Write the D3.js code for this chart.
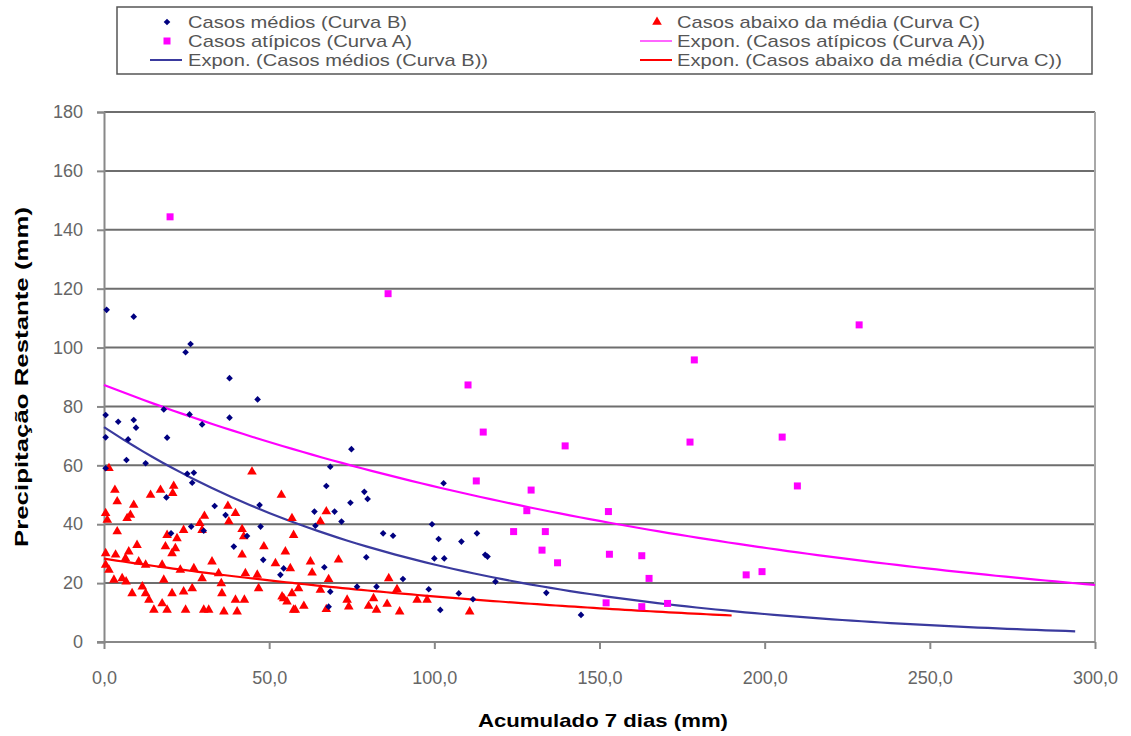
<!DOCTYPE html>
<html>
    <head>
        <meta charset="utf-8">
        <title> Precipitação restante x acumulado 7 dias </title>
        <script type="text/javascript" src="https://d3js.org/d3.v7.min.js"></script>
        <style>
            body {margin: 0; background: #fff;}
            svg text {font-family: "Liberation Sans", Arial, sans-serif;}
        </style>
    </head>
    <body>
        <script>
            // Casos atípicos (Curva A) - [acumulado 7 dias, precipitação restante]
            var casosAtipicos = [
                [20, 144.4], [86, 118.3], [110.2, 87.3], [178.7, 95.8], [228.6, 107.7],
                [114.8, 71.3], [139.6, 66.6], [177.4, 67.9], [205.3, 69.6], [112.7, 54.7],
                [209.9, 53], [129.3, 51.6], [128, 44.6], [152.7, 44.3], [124, 37.5],
                [133.6, 37.5], [132.6, 31.2], [153, 29.8], [162.8, 29.3], [137.3, 26.9],
                [165, 21.6], [194.4, 22.8], [199.2, 23.9], [152, 13.3], [162.8, 12], [170.6, 13.1]
            ];

            // Casos médios (Curva B)
            var casosMedios = [
                [0.8, 112.8], [9, 110.5], [26.2, 101.2], [24.7, 98.4], [38, 89.6], [46.5, 82.4],
                [0.5, 77.1], [4.3, 74.8], [9, 75.4], [9.7, 72.8], [0.5, 69.5], [7.3, 68.8],
                [19.1, 69.4], [18.1, 79], [25.9, 77.3], [29.7, 73.9], [38, 76.2],
                [6.8, 61.8], [12.6, 60.7], [0.5, 59], [25.2, 57.1], [27.2, 57.5], [26.7, 54.1],
                [18.9, 49.1], [33.5, 46.2], [36.8, 43.1], [47.1, 46.5], [26.4, 39.2], [30.2, 37.8],
                [47.4, 39.2], [20.3, 36.9], [43.3, 36], [39.3, 32.4], [48.2, 27.9], [54.4, 25],
                [53.4, 22.8], [74.9, 65.5], [68.5, 59.5], [67.3, 53], [78.8, 51], [79.8, 48.6],
                [74.6, 47.3], [63.7, 44.3], [69.8, 44.3], [102.8, 53.9], [71.9, 40.9], [64, 39.5],
                [99.3, 40], [84.5, 36.9], [87.5, 36.1], [101.3, 35], [108.2, 34.1], [112.9, 36.9],
                [79.4, 28.8], [100, 28.4], [103, 28.4], [66.7, 25.4], [90.5, 21.4], [68.5, 17.1],
                [76.6, 18.8], [82.5, 18.8], [98.3, 17.9], [107.4, 16.5], [101.8, 10.9], [68, 12],
                [115.4, 29.6], [116.1, 29], [118.5, 20.5], [111.7, 14.5], [133.9, 16.7], [144.4, 9.2]
            ];

            // Casos abaixo da média (Curva C)
            var casosAbaixo = [
                [1.5, 59], [3.3, 51.6], [4, 47.7], [14.1, 49.9], [17.1, 51.6], [21.1, 53],
                [20.8, 50.5], [9, 46.5], [8, 43.1], [0.5, 43.7], [1, 41.4], [4, 37.5], [7, 42],
                [44.8, 57.8], [53.7, 49.9], [37.5, 46.2], [39.8, 43.7], [37.8, 40.9], [30.4, 42.8],
                [29, 40.3], [29.7, 38], [24.1, 38], [19.1, 36.3], [22.1, 35.2], [18.6, 32.4],
                [21.6, 31.8], [20.6, 30.1], [41.8, 38.3], [42.3, 35.8], [10, 32.9], [7.5, 30.7],
                [6.5, 28.4], [0.5, 30.1], [3.5, 29.6], [0.5, 26.2], [1.5, 24.5], [5.5, 21.6],
                [3, 21.1], [6.7, 20.5], [8.5, 16.5], [11.6, 18.8], [12.6, 16.5], [13.6, 14.3],
                [15.1, 10.9], [17.6, 13.1], [18.1, 21.1], [17.6, 26.2], [19.1, 10.9], [20.6, 16.5],
                [24.1, 17.1], [24.7, 10.9], [26.7, 18.2], [27.2, 25], [23.1, 24.5], [29.7, 21.6],
                [30.2, 10.9], [31.7, 10.9], [32.7, 27.3], [34.7, 23.3], [35.5, 19.9], [35.7, 16.5],
                [36.3, 10.3], [39.8, 14.3], [40.3, 10.3], [42.5, 14.3], [41.8, 29.6], [42.8, 23.3],
                [46.4, 22.8], [46.8, 18.2], [48.4, 32.4], [51.9, 26.7], [54.9, 30.7], [53.9, 15.4],
                [55.4, 13.7], [57.4, 10.9], [56.9, 16.5], [10.5, 27.3], [12.6, 26.2],
                [56.9, 42], [57.4, 36.3], [56.4, 25], [62.5, 27.3], [63, 23.5], [71, 27.9],
                [67.3, 44.3], [65.5, 40.9], [68, 21.3], [65.5, 17.7], [73.6, 14.3], [74.1, 12],
                [67.3, 11.1], [57.9, 10.9], [60.5, 12.2], [54.4, 14.8], [58.9, 18.2], [81.6, 14.8],
                [80.1, 12.2], [82.5, 10.9], [85.7, 12.9], [89.5, 10.3], [86.2, 21.6], [88.7, 17.9],
                [94.8, 14.3], [97.8, 14.3], [110.7, 10.3]
            ];

            // linhas de tendência exponenciais y = a * exp(b * x)
            var trendNames = ["A", "B", "C"];
            var trendA = [87.3, 73, 28.3];
            var trendB = [-0.00502, -0.0102, -0.00603];
            var trendXMax = [300, 294, 190];

            var xTicks = [0, 50, 100, 150, 200, 250, 300];
            var yTicks = [0, 20, 40, 60, 80, 100, 120, 140, 160, 180];

            var legendLabels = [
                "Casos médios (Curva B)", "Casos abaixo da média (Curva C)",
                "Casos atípicos (Curva A)", "Expon. (Casos atípicos (Curva A))",
                "Expon. (Casos médios (Curva B))", "Expon. (Casos abaixo da média (Curva C))"
            ];

            var width = 1131, height = 736;
            var plotLeft = 104, plotRight = 1095, plotTop = 112, plotBottom = 642;

            var svg = d3.select("body").append("svg")
                        .attr("width", width)
                        .attr("height", height);

            var x = d3.scaleLinear().domain([0, 300]).range([plotLeft, plotRight]);
            var y = d3.scaleLinear().domain([0, 180]).range([plotBottom, plotTop]);

            // grade horizontal
            svg.append("g").selectAll("line")
                .data(yTicks.filter(function(d) {return d > 0;}))
                .enter().append("line")
                .attr("x1", plotLeft).attr("x2", plotRight)
                .attr("y1", function(d) {return y(d);})
                .attr("y2", function(d) {return y(d);})
                .attr("stroke", "#6e6e6e")
                .attr("stroke-width", 2);

            // borda direita
            svg.append("line")
                .attr("x1", plotRight).attr("x2", plotRight)
                .attr("y1", plotTop).attr("y2", plotBottom)
                .attr("stroke", "#a8a8a8").attr("stroke-width", 2);

            var yAxis = svg.append("g")
                .attr("transform", "translate(" + plotLeft + ",0)")
                .call(d3.axisLeft(y).tickValues(yTicks).tickSize(7).tickPadding(14).tickFormat(d3.format("d")));

            var xAxis = svg.append("g")
                .attr("transform", "translate(0," + plotBottom + ")")
                .call(d3.axisBottom(x).tickValues(xTicks).tickSize(7).tickPadding(22)
                      .tickFormat(function(d) {return d3.format(".1f")(d).replace(".", ",");}));

            [xAxis, yAxis].forEach(function(ax) {
                ax.select(".domain").attr("stroke", "#888").attr("stroke-width", 2);
                ax.selectAll(".tick line").attr("stroke", "#888").attr("stroke-width", 2);
                ax.selectAll(".tick text").attr("fill", "#666").style("font-size", "18px");
            });
            xAxis.select(".domain").attr("d", "M" + (plotLeft - 7) + ",0H" + plotRight);

            // títulos dos eixos
            svg.append("text")
                .attr("x", 603).attr("y", 727)
                .attr("text-anchor", "middle")
                .attr("textLength", 250).attr("lengthAdjust", "spacingAndGlyphs")
                .style("font-size", "19px").style("font-weight", "bold")
                .text("Acumulado 7 dias (mm)");

            svg.append("text")
                .attr("transform", "translate(28,377) rotate(-90)")
                .attr("text-anchor", "middle")
                .attr("textLength", 340).attr("lengthAdjust", "spacingAndGlyphs")
                .style("font-size", "19px").style("font-weight", "bold")
                .text("Precipitação Restante (mm)");

            // linhas de tendência
            var trendColors = ["#ff00ff", "#3a3a9e", "#ff0000"];
            var line = d3.line()
                .x(function(d) {return x(d[0]);})
                .y(function(d) {return y(d[1]);});

            trendNames.forEach(function(name, i) {
                var pts = d3.range(0, 101).map(function(k) {
                    var xv = trendXMax[i] * k / 100;
                    return [xv, trendA[i] * Math.exp(trendB[i] * xv)];
                });
                svg.append("path")
                    .attr("class", "trend" + name)
                    .attr("d", line(pts))
                    .attr("fill", "none")
                    .attr("stroke", trendColors[i])
                    .attr("stroke-width", 2.2);
            });

            // pontos
            var tri = d3.symbol().type(d3.symbolTriangle).size(40);
            var dia = d3.symbol().type(d3.symbolSquare).size(22);

            svg.append("g").selectAll("path")
                .data(casosAbaixo)
                .enter().append("path")
                .attr("d", tri)
                .attr("transform", function(d) {return "translate(" + x(d[0]) + "," + y(d[1]) + ")";})
                .attr("fill", "#ff0000");

            svg.append("g").selectAll("path")
                .data(casosMedios)
                .enter().append("path")
                .attr("d", dia)
                .attr("transform", function(d) {return "translate(" + x(d[0]) + "," + y(d[1]) + ") rotate(45)";})
                .attr("fill", "#000080");

            svg.append("g").selectAll("rect")
                .data(casosAtipicos)
                .enter().append("rect")
                .attr("x", function(d) {return x(d[0]) - 3.5;})
                .attr("y", function(d) {return y(d[1]) - 3.5;})
                .attr("width", 7).attr("height", 7)
                .attr("fill", "#ff00ff");

            // legenda
            svg.append("rect")
                .attr("x", 117).attr("y", 7)
                .attr("width", 975).attr("height", 67)
                .attr("fill", "#fff")
                .attr("stroke", "#555").attr("stroke-width", 1.5);

            var legX = [167, 657];
            var legY = [22, 41, 60];
            var legText = [188, 677];
            var legLen = [219, 303, 224, 308, 300, 385];

            var legend = svg.append("g");
            legendLabels.forEach(function(label, i) {
                var col = i % 2, row = Math.floor(i / 2);
                var cx = legX[col], cy = legY[row];
                if (i === 0) {
                    legend.append("path").attr("d", dia).attr("transform", "translate(" + cx + "," + cy + ") rotate(45)").attr("fill", "#000080");
                } else if (i === 1) {
                    legend.append("path").attr("d", tri).attr("transform", "translate(" + cx + "," + cy + ")").attr("fill", "#ff0000");
                } else if (i === 2) {
                    legend.append("rect").attr("x", cx - 3.5).attr("y", cy - 3.5).attr("width", 7).attr("height", 7).attr("fill", "#ff00ff");
                } else {
                    var c = i === 3 ? "#ff66ff" : (i === 4 ? "#3a3a9e" : "#ff0000");
                    legend.append("line")
                        .attr("x1", cx - 17).attr("x2", cx + 15)
                        .attr("y1", cy).attr("y2", cy)
                        .attr("stroke", c).attr("stroke-width", 2);
                }
                legend.append("text")
                    .attr("x", legText[col]).attr("y", cy + 6)
                    .attr("textLength", legLen[i]).attr("lengthAdjust", "spacingAndGlyphs")
                    .attr("fill", "#555")
                    .style("font-size", "17px")
                    .text(label);
            });
        </script>
    </body>
</html>
